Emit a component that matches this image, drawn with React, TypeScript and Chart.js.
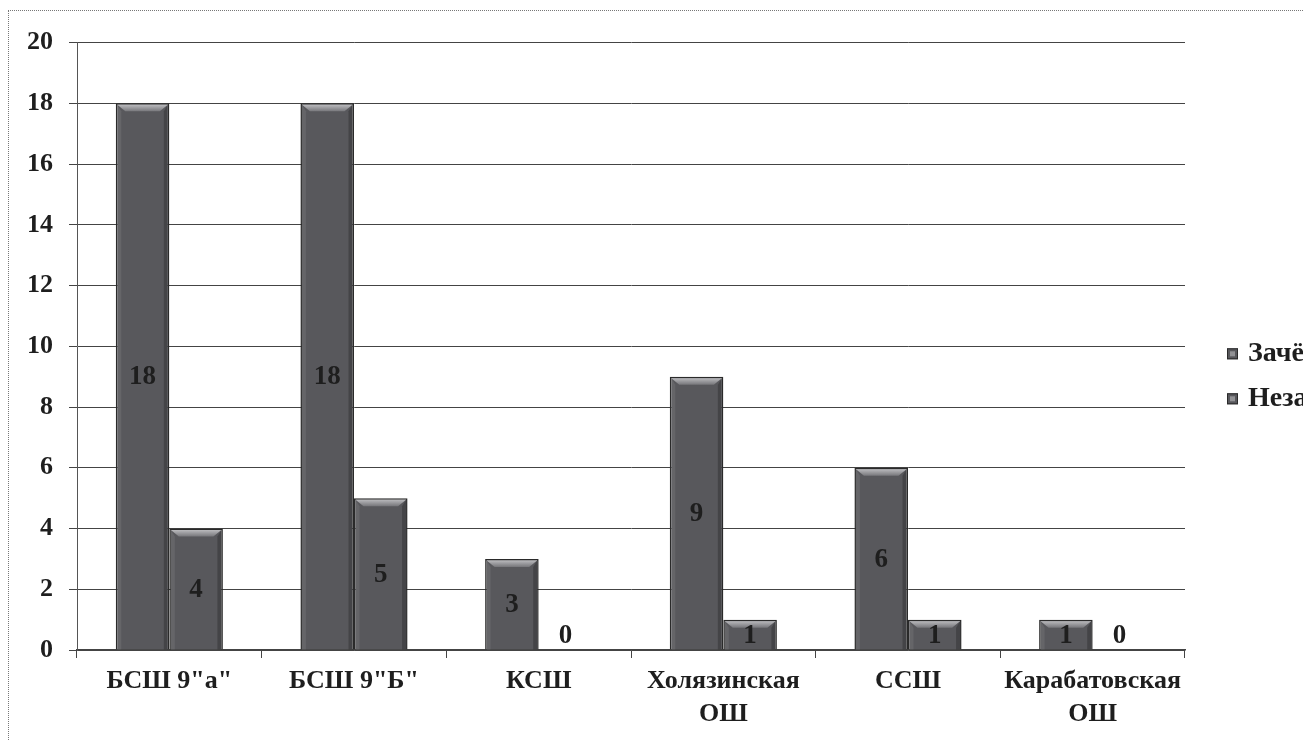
import React, { useEffect, useRef } from 'react';
import { Chart, registerables } from 'chart.js';

Chart.register(...registerables);

const categories: string[][] = [
  ['БСШ 9"а"'],
  ['БСШ 9"Б"'],
  ['КСШ'],
  ['Холязинская', 'ОШ'],
  ['ССШ'],
  ['Карабатовская', 'ОШ'],
];
const seriesNames = ['Зачёт', 'Незачёт'];
const passedValues = [18, 18, 3, 9, 6, 1];
const failedValues = [4, 5, 0, 1, 1, 0];
const yMin = 0;
const yMax = 20;
const yStep = 2;

const FONT = '"Liberation Serif", "Times New Roman", serif';
const BAR_FILL = '#58585c';
const BAR_EDGE = '#2a2a2a';

const bevelPlugin = {
  id: 'bevel',
  afterDatasetsDraw(chart: any) {
    const ctx = chart.ctx;
    chart.data.datasets.forEach((_ds: any, di: number) => {
      const meta = chart.getDatasetMeta(di);
      if (meta.hidden) return;
      meta.data.forEach((el: any) => {
        const { x, y, base, width } = el.getProps(['x', 'y', 'base', 'width'], true);
        const h = Math.abs(base - y);
        if (h < 1) return;
        const left = x - width / 2;
        const right = x + width / 2;
        const top = Math.min(y, base);
        const bottom = Math.max(y, base);
        const b = Math.min(8, h / 2, width / 4);
        ctx.save();
        const g = ctx.createLinearGradient(0, top, 0, top + b);
        g.addColorStop(0, '#c9c9cc');
        g.addColorStop(1, '#77777b');
        ctx.fillStyle = g;
        ctx.beginPath();
        ctx.moveTo(left + 1.5, top + 1.5);
        ctx.lineTo(right - 1.5, top + 1.5);
        ctx.lineTo(right - 1.5 - b, top + b);
        ctx.lineTo(left + 1.5 + b, top + b);
        ctx.closePath();
        ctx.fill();
        ctx.fillStyle = 'rgba(0,0,0,0.22)';
        ctx.beginPath();
        ctx.moveTo(right - 1.5, top + 1.5);
        ctx.lineTo(right - 1.5, bottom);
        ctx.lineTo(right - 1.5 - Math.min(4, b), bottom);
        ctx.lineTo(right - 1.5 - Math.min(4, b), top + b);
        ctx.closePath();
        ctx.fill();
        ctx.fillStyle = 'rgba(255,255,255,0.08)';
        ctx.beginPath();
        ctx.moveTo(left + 1.5, top + 1.5);
        ctx.lineTo(left + 1.5 + Math.min(4, b), top + b);
        ctx.lineTo(left + 1.5 + Math.min(4, b), bottom);
        ctx.lineTo(left + 1.5, bottom);
        ctx.closePath();
        ctx.fill();
        ctx.restore();
      });
    });
  },
};

const valueLabelPlugin = {
  id: 'valueLabels',
  afterDatasetsDraw(chart: any) {
    const ctx = chart.ctx;
    ctx.save();
    ctx.font = `bold 27px ${FONT}`;
    ctx.textAlign = 'center';
    ctx.textBaseline = 'middle';
    ctx.fillStyle = '#1e1e1e';
    chart.data.datasets.forEach((ds: any, di: number) => {
      const meta = chart.getDatasetMeta(di);
      if (meta.hidden) return;
      meta.data.forEach((el: any, i: number) => {
        const v = ds.data[i];
        const { x, y, base } = el.getProps(['x', 'y', 'base'], true);
        const yc = v === 0 ? base - 14 : (y + base) / 2 + 1;
        ctx.fillText(String(v), x, yc);
      });
    });
    ctx.restore();
  },
};

const sideLegendPlugin = {
  id: 'sideLegend',
  afterDraw(chart: any) {
    const ctx = chart.ctx;
    const area = chart.chartArea;
    const mx = area.right + 42;
    const cy = (area.top + area.bottom) / 2 + 29.5;
    ctx.save();
    ctx.font = `bold 28px ${FONT}`;
    ctx.textAlign = 'left';
    ctx.textBaseline = 'middle';
    chart.data.datasets.forEach((ds: any, i: number) => {
      const yc = cy + (i - 0.5) * 45;
      ctx.fillStyle = ds.backgroundColor;
      ctx.fillRect(mx, yc - 5, 11, 11);
      ctx.fillStyle = 'rgba(255,255,255,0.35)';
      ctx.fillRect(mx + 3, yc - 2, 5, 5);
      ctx.strokeStyle = BAR_EDGE;
      ctx.lineWidth = 1;
      ctx.strokeRect(mx + 0.5, yc - 4.5, 10, 10);
      ctx.fillStyle = '#1e1e1e';
      ctx.fillText(ds.label, mx + 21, yc);
    });
    ctx.restore();
  },
};

export default function App() {
  const canvasRef = useRef<HTMLCanvasElement | null>(null);

  useEffect(() => {
    if (!canvasRef.current) return;
    const chart = new Chart(canvasRef.current, {
      type: 'bar',
      data: {
        labels: categories,
        datasets: [
          {
            label: seriesNames[0],
            data: passedValues,
            backgroundColor: BAR_FILL,
            borderColor: BAR_EDGE,
            borderWidth: 1.5,
            categoryPercentage: 0.58,
            barPercentage: 1.0,
          },
          {
            label: seriesNames[1],
            data: failedValues,
            backgroundColor: BAR_FILL,
            borderColor: BAR_EDGE,
            borderWidth: 1.5,
            categoryPercentage: 0.58,
            barPercentage: 1.0,
          },
        ],
      },
      options: {
        animation: false,
        responsive: true,
        maintainAspectRatio: false,
        layout: { padding: { top: 29, right: 118, bottom: 0, left: 0 } },
        plugins: {
          legend: { display: false },
          tooltip: { enabled: false },
        },
        scales: {
          x: {
            afterFit: (scale: any) => {
              scale.height = 90;
            },
            grid: {
              offset: true,
              drawOnChartArea: false,
              drawTicks: true,
              tickLength: 8,
              color: '#444',
            },
            border: { display: true, color: '#444', width: 1.5 },
            ticks: {
              color: '#1e1e1e',
              font: { family: FONT, size: 26, weight: 'bold', lineHeight: 1.3 },
              padding: 6,
              maxRotation: 0,
              autoSkip: false,
            },
          },
          y: {
            min: yMin,
            max: yMax,
            afterFit: (scale: any) => {
              scale.width = 68;
            },
            grid: {
              color: '#444',
              lineWidth: 1,
              drawTicks: true,
              tickLength: 8,
            },
            border: { display: true, color: '#555', width: 1 },
            ticks: {
              stepSize: yStep,
              color: '#1e1e1e',
              font: { family: FONT, size: 26, weight: 'bold' },
              padding: 16,
            },
          },
        },
      },
      plugins: [bevelPlugin, valueLabelPlugin, sideLegendPlugin],
    });
    return () => chart.destroy();
  }, []);

  return (
    <div
      style={{
        position: 'fixed',
        left: 8,
        top: 10,
        right: 0,
        bottom: 0,
        borderLeft: '1px dotted #777',
        borderTop: '1px dotted #777',
        background: '#ffffff',
      }}
    >
      <div style={{ position: 'relative', width: '100%', height: '100%' }}>
        <canvas ref={canvasRef} />
      </div>
    </div>
  );
}
